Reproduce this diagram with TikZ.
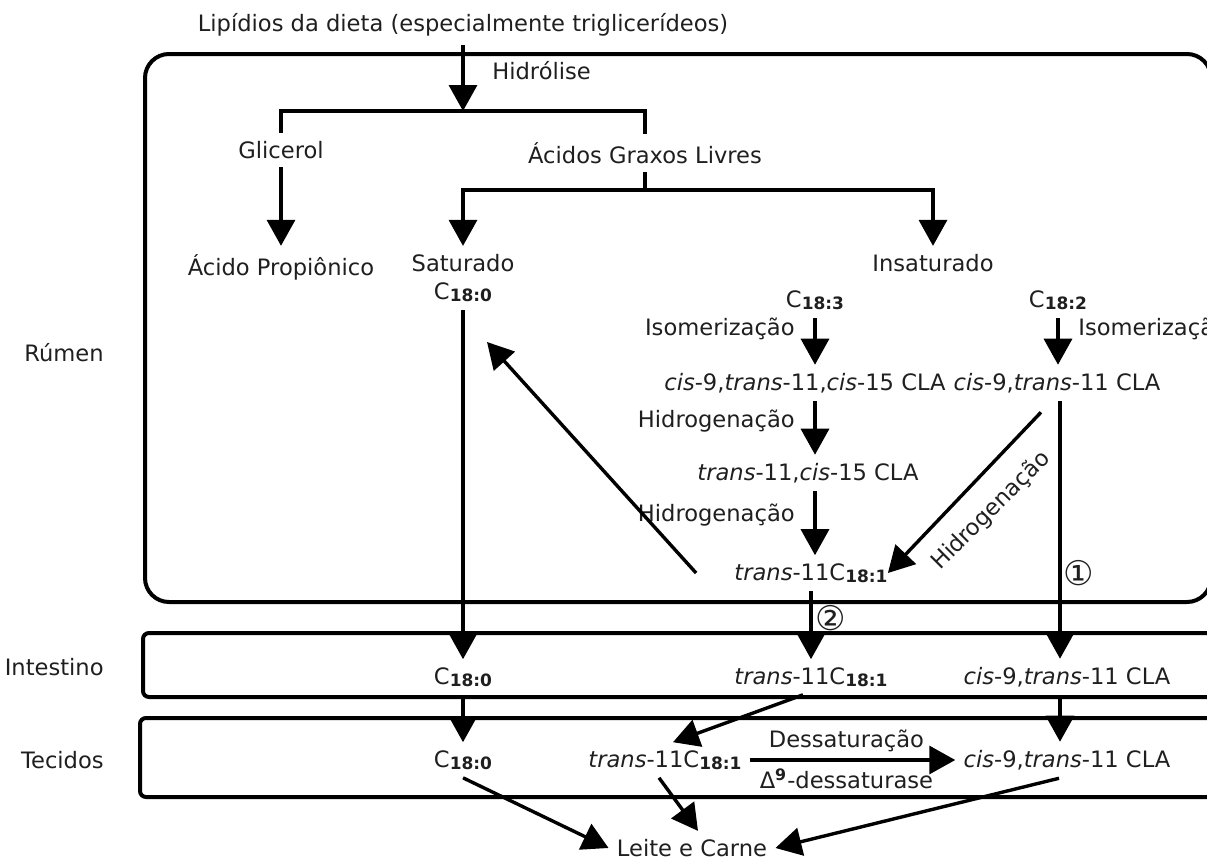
\documentclass[tikz,border=0pt]{standalone}
\usepackage{fontspec}
\setmainfont{DejaVu Sans}
\usetikzlibrary{arrows.meta}
\newcommand{\Cx}[1]{C{\fontsize{8.5}{9}\selectfont\bfseries\raisebox{-0.2ex}{#1}}}

\begin{document}
\begin{tikzpicture}[x=0.5pt, y=-0.5pt, line width=1.7pt,
		every node/.style={font=\fontsize{11.3}{13.5}\selectfont, text=black!88},
		seta/.style={-{Triangle[width=14pt,length=13pt]}},
		caixa/.style={line width=2pt},
		num/.style={font=\fontsize{17}{17}\selectfont}]
	\useasboundingbox (0,0) rectangle (1207,857);
	
	% compartimentos
	\draw[caixa, rounded corners=12pt] (145,54) rectangle (1211,602);
	\draw[caixa, rounded corners=3pt] (143,633) rectangle (1225,697);
	\draw[caixa, rounded corners=3pt] (140,718) rectangle (1225,797);
	\node[anchor=east] (R) at (112,353) {Rúmen};
	\node[anchor=east] (I) at (112,667) {Intestino};
	\node[anchor=east] (T) at (112,760) {Tecidos};
	
	% rumen
	\node (L) at (463,25) {Lipídios da dieta (especialmente triglicerídeos)};
	\coordinate (H) at (463,111);
	\node[anchor=west] (Hl) at (484,71) {Hidrólise};
	\node (G) at (281,150) {Glicerol};
	\node (AG) at (645,153) {Ácidos Graxos Livres};
	\coordinate (F) at (645,190);
	\node (P) at (281,267) {Ácido Propiônico};
	\node (S) at (463,263) {Saturado};
	\node (U) at (933,263) {Insaturado};
	\node (C0) at (463,292) {\Cx{18:0}};
	\node (C3) at (815,300) {\Cx{18:3}};
	\node (C2) at (1058,300) {\Cx{18:2}};
	\node[anchor=east] (Is1) at (803,329) {Isomerização};
	\node[anchor=west] (Is2) at (1070,329) {Isomerização};
	\node (A1) at (805,383) {\textit{cis}-9,\textit{trans}-11,\textit{cis}-15 CLA};
	\node (A2) at (1057,383) {\textit{cis}-9,\textit{trans}-11 CLA};
	\node[anchor=east] (Hg1) at (803,421) {Hidrogenação};
	\node (A3) at (808,473) {\textit{trans}-11,\textit{cis}-15 CLA};
	\node[anchor=east] (Hg2) at (803,515) {Hidrogenação};
	\node (T1) at (811,573) {\textit{trans}-11\Cx{18:1}};
	\node[rotate=45] (Hg3) at (991,511) {Hidrogenação};
	\coordinate (Sx) at (487,342);
	\coordinate (V) at (1060,0);
	\node[num] (n1) at (1079,573) {①};
	\node[num] (n2) at (831,618) {②};
	
	\draw[seta] (L) -- (H);
	\draw (G) |- (H) -| (AG);
	\draw[seta] (G) -- (P);
	\draw (AG) -- (F);
	\draw[seta] (F) -| (S);
	\draw[seta] (F) -| (U);
	\draw[seta] (C3) -- (C3 |- A1.north);
	\draw[seta] (A1.south -| C3) -- (C3 |- A3.north);
	\draw[seta] (A3.south -| C3) -- (C3 |- T1.north);
	\draw[seta] (C2) -- (C2 |- A2.north);
	\draw[seta] ([xshift=-15pt]T1.west) -- (Sx);
	\draw[seta] ([shift={(-16,11)}]A2.south) -- ([xshift=-4pt]T1.east);
	
	% intestino e tecidos
	\node (I0) at (463,677) {\Cx{18:0}};
	\node (I1) at (811,677) {\textit{trans}-11\Cx{18:1}};
	\node (I2) at (1067,677) {\textit{cis}-9,\textit{trans}-11 CLA};
	\node (K0) at (463,760) {\Cx{18:0}};
	\node (K1) at (665,760) {\textit{trans}-11\Cx{18:1}};
	\node (K2) at (1067,760) {\textit{cis}-9,\textit{trans}-11 CLA};
	\node (M) at (692,848) {Leite e Carne};
	
	\draw[seta] (C0) -- (I0);
	\draw[seta] (T1) -- (I1);
	\draw[seta] (A2.south -| V) -- (V |- I2.north);
	\draw[seta] (I0) -- (K0);
	\draw[seta] ([xshift=-4pt]I1.south) -- ([xshift=4pt]K1.north);
	\draw[seta] (I2.south -| V) -- (V |- K2.north);
	\draw[seta] (K1) -- (K2)
		node[pos=0.47, above] {Dessaturação}
		node[pos=0.47, below] {Δ\textsuperscript{\bfseries 9}-dessaturase};
	\draw[seta] (K0.south) -- (M.west);
	\draw[seta] ([xshift=-3pt]K1.south) -- ([xshift=3pt]M.north);
	\draw[seta] ([xshift=-4pt]K2.south) -- (M.east);
\end{tikzpicture}
\end{document}
